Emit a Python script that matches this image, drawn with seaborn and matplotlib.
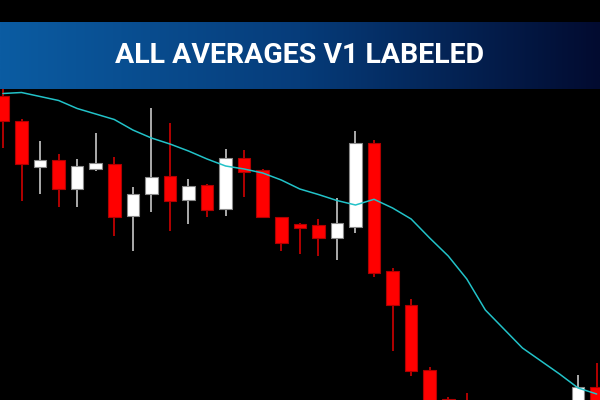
import numpy as np
import pandas as pd
import matplotlib
matplotlib.use("Agg")
import matplotlib.pyplot as plt
import seaborn as sns
from matplotlib.colors import LinearSegmentedColormap

# ===================== DATA =====================
TITLE = "ALL AVERAGES V1 LABELED"

# OHLC per bar (bars 26-30 fall below the visible window)
opens = [304, 279, 233, 240, 211, 231, 236, 184, 206, 224, 200, 215, 191, 242, 230, 183, 176,
         175, 162, 173, 257, 129, 95, 30, 1, -10, np.nan, np.nan, np.nan, np.nan, np.nan, -5, 13]
highs = [315, 281, 259, 246, 241, 267, 243, 213, 292, 277, 221, 216, 251, 250, 231, 183, 177,
         181, 202, 269, 260, 132, 101, 33, 3, 7, np.nan, np.nan, np.nan, np.nan, np.nan, 25, 37]
lows = [252, 199, 206, 193, 193, 229, 164, 149, 188, 169, 176, 183, 184, 203, 183, 149, 146,
        144, 140, 167, 123, 49, 24, -25, -50, -70, np.nan, np.nan, np.nan, np.nan, np.nan, -15, -30]
closes = [279, 236, 240, 211, 234, 237, 183, 206, 223, 199, 214, 190, 242, 228, 183, 157, 172,
          162, 177, 257, 127, 95, 29, -20, -40, -60, np.nan, np.nan, np.nan, np.nan, np.nan, 13, -20]

# moving average value at each bar
ma = [306.5, 307.5, 303.5, 299.5, 291.5, 286, 280.5, 270, 262, 256, 249, 241, 234, 231, 227,
      220, 211, 205.5, 199.5, 195, 200.7, 192, 181, 162, 144, 121, 90, 71, 52, 39, 26, 12, 6]

# ===================== FRAME =====================
df = pd.DataFrame({"bar": np.arange(len(opens)), "open": opens, "high": highs,
                   "low": lows, "close": closes}).dropna()
up = df[df["close"] >= df["open"]]
down = df[df["close"] < df["open"]]
ma_df = pd.DataFrame({"bar": np.arange(len(ma)), "ma": ma})

# ===================== PLOT =====================
sns.set_theme(style="dark")
fig = plt.figure(figsize=(6, 4), dpi=100, facecolor="black")
ax = fig.add_axes([0, 0, 1, 1])
ax.set_facecolor("black")

ax.vlines(up["bar"], up["low"], up["high"], color="#c8c8c8", lw=1.2, zorder=1)
ax.vlines(down["bar"], down["low"], down["high"], color="#d00000", lw=1.2, zorder=1)
ax.bar(up["bar"], up["close"] - up["open"], bottom=up["open"], width=0.68,
       color="white", edgecolor="#8a8a8a", lw=0.8, zorder=2)
ax.bar(down["bar"], down["close"] - down["open"], bottom=down["open"], width=0.68,
       color="#ff0000", edgecolor="#b00000", lw=0.8, zorder=2)

sns.lineplot(data=ma_df, x="bar", y="ma", ax=ax, color="#22c2c8", lw=1.1, zorder=3)

ax.set_xlim(-0.16, 32.18)
ax.set_ylim(0, 400)
ax.axis("off")

# ===================== BANNER =====================
bax = fig.add_axes([0, 0.7775, 1, 0.1675])
grad = np.linspace(0, 1, 256).reshape(1, -1)
cmap = LinearSegmentedColormap.from_list("banner", ["#0b5ca2", "#063c7a", "#020b30"])
bax.imshow(grad, aspect="auto", cmap=cmap, extent=[0, 1, 0, 1])
bax.set_xlim(0, 1)
bax.set_ylim(0, 1)
bax.axis("off")
bax.text(0.5, 0.5, TITLE, color="white", fontsize=20.5, fontweight="bold",
         family=["Roboto", "DejaVu Sans"], ha="center", va="center")

fig.savefig("out.png", dpi=100, facecolor="black")
plt.close()
